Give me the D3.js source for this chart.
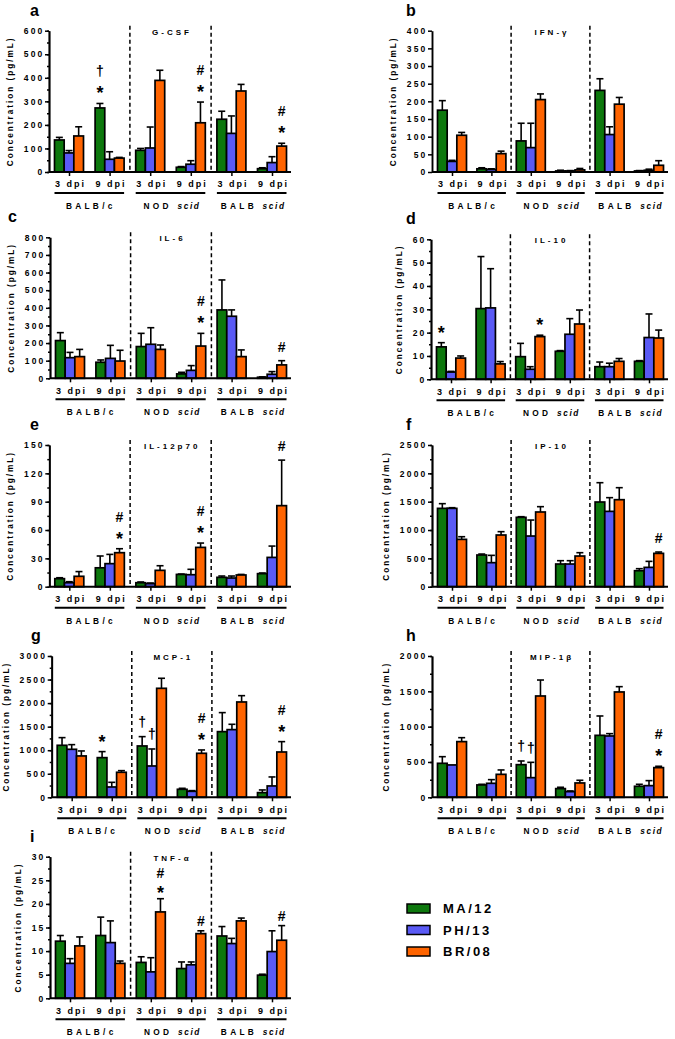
<!DOCTYPE html>
<html><head><meta charset="utf-8">
<script src="https://cdn.jsdelivr.net/npm/d3@7"></script>
<style>
body{margin:0;background:#fff}
svg{display:block}
text{font-family:"Liberation Sans",Arial,sans-serif;font-weight:bold;fill:#000}
</style>
</head><body>
<svg id="chart" width="675" height="1039"></svg>
<script>
// ---------- data ----------
const strains = ["BALB/c", "NOD scid", "BALB scid"];
const timepoints = ["3 dpi", "9 dpi"];
const series = ["MA/12", "PH/13", "BR/08"];
const seriesColors = ["#0d780d", "#5a5af5", "#ff6400"];

// groups order: BALB/c 3,9 | NOD scid 3,9 | BALB scid 3,9
const gcsfMean = [[136,272,92,20,224,14],[81,54,102,33,164,40],[153,59,389,209,344,110]];
const gcsfSem  = [[11,19,8,3,34,4],[10,32,89,15,74,25],[39,3,43,88,28,12]];
const ifngMean = [[175,9,88,3,231,3],[30,7,69,3,106,5],[104,52,205,6,192,19]];
const ifngSem  = [[27,3,50,2,33,1],[3,2,69,1,22,3],[8,7,16,4,19,13]];
const il6Mean  = [[214,91,180,25,388,6],[117,113,193,45,352,23],[123,98,164,183,123,76]];
const il6Sem   = [[45,13,75,9,170,2],[30,74,94,27,36,15],[41,61,25,72,38,24]];
const il10Mean = [[13.9,30.3,9.7,12,5.4,7.7],[3.1,30.6,4.3,19.3,5.4,17.9],[9.1,6.6,18.3,23.7,7.7,17.7]];
const il10Sem  = [[1.8,22.3,5.7,0.3,2,0.3],[0.3,16.8,1.1,6.7,1.5,10.1],[0.9,1,0.6,6,1.2,3.4]];
const il12Mean = [[8.5,20,4.2,13,9.9,13.8],[4.2,24.4,3.2,12.7,9.2,31],[11,36,17.3,41.6,12.4,85.8]];
const il12Sem  = [[1,12.5,0.8,0.4,1.4,0.7],[1.1,9.8,0.7,5.7,2.1,12],[5,4.2,4.9,4.6,0.6,48.2]];
const ip10Mean = [[1382,559,1224,400,1494,282],[1382,424,894,400,1329,341],[835,912,1318,541,1535,588]];
const ip10Sem  = [[83,17,11,59,341,36],[12,129,282,59,242,106],[47,59,94,59,212,24]];
const mcp1Mean = [[1104,842,1090,170,1394,99],[1019,219,665,127,1437,241],[878,531,2314,934,2024,962]];
const mcp1Sem  = [[163,128,198,21,404,57],[99,99,361,15,113,191],[106,35,213,71,134,220]];
const mip1bMean= [[481,175,462,123,877,156],[458,198,278,80,868,165],[788,325,1434,203,1491,420]];
const mip1bSem = [[94,9,52,19,274,28],[0,52,217,10,33,71],[56,62,226,38,75,19]];
const tnfaMean = [[12.1,13.3,7.6,6.3,13.2,4.9],[7.4,11.8,5.6,7.1,11.6,9.9],[11.1,7.4,18.3,13.7,16.4,12.3]];
const tnfaSem  = [[1.2,3.9,1.2,1.4,2,0.2],[1,4.6,3,0.6,1.1,4.4],[1.9,0.5,2.8,0.6,0.6,3.1]];

// significance marks: [group, series, symbols bottom->top]
const gcsfMarks = [[1,0,"*†"],[3,2,"*#"],[5,2,"*#"]];
const ifngMarks = [];
const il6Marks  = [[3,2,"*#"],[5,2,"#"]];
const il10Marks = [[0,0,"*"],[2,2,"*"]];
const il12Marks = [[1,2,"*#"],[3,2,"*#"],[5,2,"#"]];
const ip10Marks = [[5,2,"#"]];
const mcp1Marks = [[1,0,"*"],[2,0,"†"],[2,1,"†"],[3,2,"*#"],[5,2,"*#"]];
const mip1bMarks= [[2,0,"†"],[2,1,"†"],[5,2,"*#"]];
const tnfaMarks = [[2,2,"*#"],[3,2,"#"],[5,2,"#"]];

// ---------- layout ----------
const panels = [
  {letter:"a", lx:30,  title:"G-CSF",   mean:gcsfMean, sem:gcsfSem, marks:gcsfMarks, max:600, step:100, minor:50,  x0:49,  x1:291, y0:30.7,  y1:172},
  {letter:"b", lx:406, title:"IFN-γ",   mean:ifngMean, sem:ifngSem, marks:ifngMarks, max:400, step:50,  minor:0,   x0:432, x1:668, y0:30.7,  y1:172},
  {letter:"c", lx:8,   title:"IL-6",    mean:il6Mean,  sem:il6Sem,  marks:il6Marks,  max:800, step:100, minor:50,  x0:50,  x1:291, y0:237.3, y1:378.3},
  {letter:"d", lx:406, title:"IL-10",   mean:il10Mean, sem:il10Sem, marks:il10Marks, max:60,  step:10,  minor:5,   x0:431, x1:668, y0:239.3, y1:379.3},
  {letter:"e", lx:30,  title:"IL-12p70",mean:il12Mean, sem:il12Sem, marks:il12Marks, max:150, step:30,  minor:15,  x0:49.3,x1:291, y0:445,   y1:586.7},
  {letter:"f", lx:406, title:"IP-10",   mean:ip10Mean, sem:ip10Sem, marks:ip10Marks, max:2500,step:500, minor:250, x0:432, x1:668, y0:445,   y1:586.7},
  {letter:"g", lx:31,  title:"MCP-1",   mean:mcp1Mean, sem:mcp1Sem, marks:mcp1Marks, max:3000,step:500, minor:250, x0:51.7,x1:291, y0:656,   y1:797.3},
  {letter:"h", lx:406, title:"MIP-1β",  mean:mip1bMean,sem:mip1bSem,marks:mip1bMarks,max:2000,step:500, minor:250, x0:432, x1:668, y0:656,   y1:797.3},
  {letter:"i", lx:30,  title:"TNF-α",   mean:tnfaMean, sem:tnfaSem, marks:tnfaMarks, max:30,  step:5,   minor:2.5, x0:50,  x1:291, y0:856.7, y1:998.3, markGap:10, markStep:16}
];

const FONT = '"Liberation Sans",Arial,sans-serif';
const svg = d3.select("#chart");

panels.forEach(p => {
  const g = svg.append("g");
  const y = d3.scaleLinear().domain([0, p.max]).range([p.y1, p.y0]);
  const x = d3.scalePoint().domain(d3.range(6)).range([p.x0 + 20, p.x1 - 19]);
  const xs = d3.scaleBand().domain(d3.range(3)).range([-14.5, 14.5]);

  // panel letter
  g.append("text").attr("x", p.lx).attr("y", p.y0 - 15).attr("font-size", 16).text(p.letter);

  // dashed separators
  const d1 = (x(1) + x(2)) / 2, d2 = (x(3) + x(4)) / 2;
  [d1, d2].forEach(dx => g.append("line").attr("x1", dx).attr("x2", dx)
    .attr("y1", p.y0 - 5).attr("y2", p.y1).attr("stroke", "#000")
    .attr("stroke-width", 1.5).attr("stroke-dasharray", "4,3"));

  // title
  g.append("text").attr("x", (d1 + d2) / 2 + 1.5).attr("y", p.y0 + 4)
    .attr("text-anchor", "middle").attr("font-size", 8).attr("letter-spacing", 3).text(p.title);

  // bars + error bars
  for (let s = 0; s < 3; s++) {
    const data = p.mean[s].map((v, i) => ({i, v, e: p.sem[s][i]}));
    const cxOf = d => x(d.i) + xs(s) + xs.bandwidth() / 2;
    const eb = g.append("g").attr("stroke", "#000").attr("stroke-width", 1.6);
    eb.selectAll("line.v").data(data.filter(d => d.e > 0)).join("line")
      .attr("x1", cxOf).attr("x2", cxOf)
      .attr("y1", d => y(d.v)).attr("y2", d => y(d.v + d.e));
    eb.selectAll("line.c").data(data.filter(d => d.e > 0)).join("line")
      .attr("x1", d => cxOf(d) - 3.5).attr("x2", d => cxOf(d) + 3.5)
      .attr("y1", d => y(d.v + d.e)).attr("y2", d => y(d.v + d.e));
    g.append("g").selectAll("rect").data(data).join("rect")
      .attr("x", d => x(d.i) + xs(s)).attr("width", xs.bandwidth())
      .attr("y", d => y(d.v)).attr("height", d => p.y1 - y(d.v))
      .attr("fill", seriesColors[s]).attr("stroke", "#000").attr("stroke-width", 1.7);
  }

  // significance marks
  const gap = p.markGap || 14, stepUp = p.markStep || 18;
  p.marks.forEach(([gi, s, syms]) => {
    const cx = x(gi) + xs(s) + xs.bandwidth() / 2;
    let cy = y(p.mean[s][gi] + p.sem[s][gi]) - gap;
    [...syms].forEach((sym, k) => {
      if (k > 0) cy -= stepUp;
      const fs = sym === "*" ? 18 : 14;
      const off = sym === "*" ? 10 : (sym === "#" ? 5 : 4.5);
      g.append("text").attr("x", cx).attr("y", cy + off).attr("text-anchor", "middle")
        .attr("font-size", fs).text(sym);
    });
  });

  // y axis minor ticks
  if (p.minor > 0) {
    g.append("g").attr("transform", `translate(${p.x0},0)`)
      .call(d3.axisLeft(y).tickValues(d3.range(0, p.max + 1e-9, p.minor)).tickSize(2).tickSizeOuter(0).tickFormat(""))
      .call(a => a.selectAll("line,path").attr("stroke-width", 1.5));
  }
  // y axis major
  const ya = g.append("g").attr("transform", `translate(${p.x0},0)`)
    .call(d3.axisLeft(y).tickValues(d3.range(0, p.max + 1e-9, p.step)).tickSize(4).tickSizeOuter(0).tickPadding(0.5).tickFormat(d3.format("d")));
  ya.selectAll("line").attr("stroke-width", 1.5);
  ya.select("path").attr("stroke-width", 1.9);
  ya.selectAll("text").attr("font-size", 8.5).attr("letter-spacing", 2.2)
    .attr("font-family", FONT).attr("font-weight", "bold");

  // y label
  const digits = String(p.max).length;
  const lxp = p.x0 - (17 + 7.3 * digits);
  g.append("text").attr("transform", `translate(${lxp + 3},${(p.y0 + p.y1) / 2}) rotate(-90)`)
    .attr("text-anchor", "middle").attr("font-size", 8.2).attr("letter-spacing", 2)
    .text("Concentration (pg/mL)");

  // x axis
  const xa = g.append("g").attr("transform", `translate(0,${p.y1})`)
    .call(d3.axisBottom(x).tickSize(4).tickSizeOuter(0).tickPadding(5).tickFormat(i => timepoints[i % 2]));
  xa.select("path").attr("d", `M${p.x0},0H${p.x1}`).attr("stroke-width", 1.9);
  xa.selectAll("line").attr("stroke-width", 1.5);
  xa.selectAll("text").attr("font-size", 9).attr("letter-spacing", 2).attr("dx", 1)
    .attr("font-family", FONT).attr("font-weight", "bold");

  // strain underline + labels
  strains.forEach((st, k) => {
    const a = x(2 * k) - 14.5, b = x(2 * k + 1) + 14.5;
    g.append("line").attr("x1", a).attr("x2", b).attr("y1", p.y1 + 21).attr("y2", p.y1 + 21)
      .attr("stroke", "#000").attr("stroke-width", 2);
    const t = g.append("text").attr("x", (a + b) / 2 + 1.5).attr("y", p.y1 + 37)
      .attr("text-anchor", "middle").attr("font-size", 8.3).attr("letter-spacing", 3.3);
    const parts = st.split(" ");
    if (parts.length === 1) t.text(st);
    else {
      t.append("tspan").text(parts[0] + " ");
      t.append("tspan").attr("font-style", "italic").attr("letter-spacing", 1.6).text(parts[1]);
    }
  });
});

// legend
const lg = svg.append("g");
series.forEach((s, k) => {
  const cy = 908.5 + k * 21.5;
  lg.append("rect").attr("x", 407).attr("y", cy - 4.5).attr("width", 23).attr("height", 9)
    .attr("fill", seriesColors[k]).attr("stroke", "#000").attr("stroke-width", 1.5);
  lg.append("text").attr("x", 443).attr("y", cy + 4.5).attr("font-size", 13)
    .attr("letter-spacing", 2.5).text(s);
});
</script>
</body></html>
